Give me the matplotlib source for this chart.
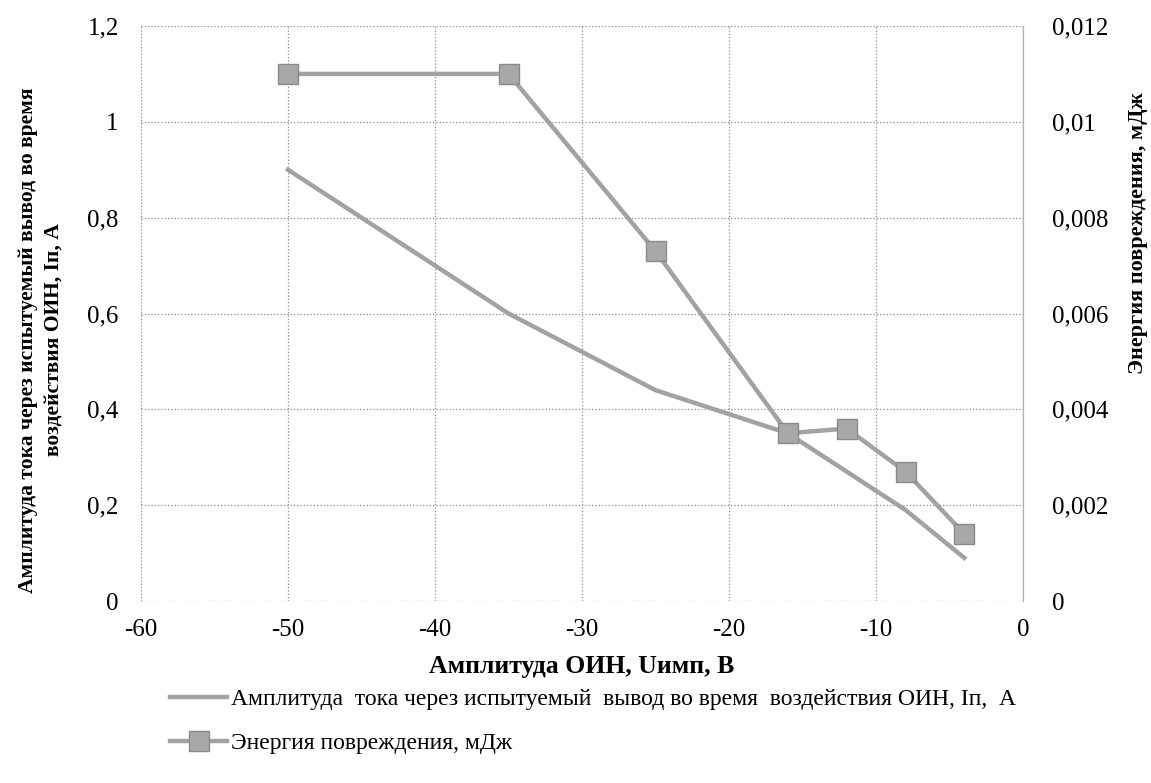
import numpy as np
import matplotlib.pyplot as plt
from matplotlib.ticker import FuncFormatter

plt.rcParams['font.family'] = ['Liberation Serif', 'DejaVu Serif']

# amplitude of the overvoltage pulse, V
u_imp = [-50, -35, -25, -16, -12, -8, -4]
# current through the tested pin, A
current = [0.9, 0.6, 0.44, 0.35, 0.27, 0.19, 0.09]
# damage energy, mJ
energy = [0.011, 0.011, 0.0073, 0.0035, 0.0036, 0.0027, 0.0014]

left_ticks = [0, 0.2, 0.4, 0.6, 0.8, 1, 1.2]
right_ticks = [0, 0.002, 0.004, 0.006, 0.008, 0.01, 0.012]
x_ticks = [-60, -50, -40, -30, -20, -10, 0]

line_col = '#a2a2a2'


def comma(v, pos):
    return ('%g' % v).replace('.', ',')


fig = plt.figure(figsize=(11.51, 7.83), dpi=100)
ax = fig.add_axes([0.1225, 0.2324, 0.7664, 0.7344])
ax2 = ax.twinx()

l1, = ax.plot(u_imp, current, color=line_col, lw=3.2)
l2, = ax2.plot(u_imp, energy, color=line_col, lw=3.2, marker='s', ms=15,
               mfc='#a8a8a8', mec='#8a8a8a', mew=1)

ax.set_xlim(-60, 0)
ax.set_ylim(0, 1.2)
ax2.set_ylim(0, 0.012)
ax.set_xticks(x_ticks)
ax.set_yticks(left_ticks)
ax2.set_yticks(right_ticks)
ax.xaxis.set_major_formatter(FuncFormatter(comma))
ax.yaxis.set_major_formatter(FuncFormatter(comma))
ax2.yaxis.set_major_formatter(FuncFormatter(comma))

ax.grid(True, color='#8c8c8c', linestyle=':', linewidth=0.9)
for a in (ax, ax2):
    for sp in a.spines.values():
        sp.set_visible(False)
    a.tick_params(length=0, labelsize=18)
ax2.spines['right'].set_visible(True)
ax2.spines['right'].set_color('#b0b0b0')
ax2.spines['right'].set_linewidth(0.9)
ax.tick_params(axis='x', pad=13)
ax.tick_params(axis='y', pad=16)
ax2.tick_params(axis='y', pad=21)

fig.text(582 / 1151, 1 - 666 / 783, 'Амплитуда ОИН, Uимп, В', fontsize=18.5,
         fontweight='bold', ha='center', va='center')
fig.text(41 / 1151, 1 - 340 / 783,
         'Амплитуда тока через испытуемый вывод во время\nвоздействия ОИН, Iп, А',
         fontsize=15.5, fontweight='bold', ha='center', va='center',
         rotation=90, multialignment='center', linespacing=1.45)
fig.text(1138 / 1151, 1 - 233 / 783, 'Энергия повреждения, мДж', fontsize=16,
         fontweight='bold', ha='center', va='center', rotation=90)

fig.legend([l1, l2],
           ['Амплитуда  тока через испытуемый  вывод во время  воздействия ОИН, Iп,  А',
            'Энергия повреждения, мДж'],
           loc='lower left', bbox_to_anchor=(0.148, 0.037), frameon=False,
           fontsize=17, handlelength=2.4, handletextpad=0.15, labelspacing=0.95,
           borderpad=0, borderaxespad=0)

fig.savefig('out.png', dpi=100)
